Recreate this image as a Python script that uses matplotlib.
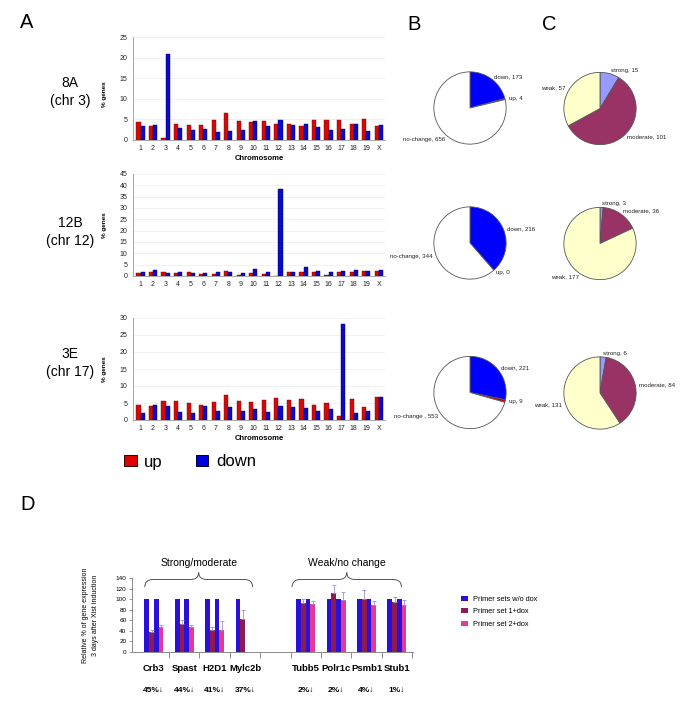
import numpy as np
import matplotlib
matplotlib.use('Agg')
import matplotlib.pyplot as plt
from matplotlib.path import Path
from matplotlib.patches import PathPatch, Patch
import matplotlib.transforms as mtransforms

plt.rcParams['font.family'] = ['Liberation Sans', 'DejaVu Sans']
NARROW = ['Liberation Sans Narrow', 'Liberation Sans', 'DejaVu Sans']

# ---------------- data ----------------
chromosomes = [str(i) for i in range(1, 20)] + ['X']

up_8A = [4.4, 3.5, 0.4, 3.8, 3.6, 3.6, 4.8, 6.6, 4.5, 4.4, 4.7, 3.8, 3.8, 3.4, 4.9, 4.9, 4.9, 3.8, 5.1, 3.4]
down_8A = [3.3, 3.6, 20.8, 2.9, 2.4, 2.6, 2.0, 2.1, 2.4, 4.7, 3.4, 4.9, 3.7, 3.9, 3.1, 2.4, 2.6, 4.0, 2.3, 3.7]

up_12B = [1.3, 1.7, 1.9, 1.4, 1.9, 0.8, 0.9, 2.4, 0.6, 1.5, 0.9, 0.0, 1.9, 1.7, 1.8, 0.3, 1.6, 1.8, 2.1, 2.2]
down_12B = [1.9, 2.6, 1.2, 1.7, 1.2, 1.4, 1.8, 1.9, 1.4, 3.0, 1.7, 38.6, 1.6, 4.1, 2.3, 1.8, 2.3, 2.5, 2.1, 2.6]

up_3E = [4.4, 4.0, 5.7, 5.7, 4.9, 4.3, 5.3, 7.4, 5.7, 5.3, 6.0, 6.4, 5.8, 6.2, 4.4, 4.9, 1.2, 6.1, 3.7, 6.8]
down_3E = [2.0, 4.4, 4.1, 2.3, 2.0, 4.2, 2.7, 3.9, 2.7, 3.1, 2.4, 4.1, 3.9, 3.6, 2.6, 3.1, 28.3, 2.1, 2.7, 6.8]

# panel B: down, up, no-change
b_values = [[173, 4, 656], [216, 0, 344], [221, 9, 553]]
b_labels = [["down, 173", "up, 4", "no-change, 656"],
            ["down, 216", "up, 0", "no-change, 344"],
            ["down, 221", "up, 9", "no-change , 553"]]
# panel C: strong, moderate, weak
c_values = [[15, 101, 57], [3, 36, 177], [6, 84, 131]]
c_labels = [["strong, 15", "moderate, 101", "weak, 57"],
            ["strong, 3", "moderate, 36", "weak, 177"],
            ["strong, 6", "moderate, 84", "weak, 131"]]

# panel D
genes = ['Crb3', 'Spast', 'H2D1', 'Mylc2b', '', 'Tubb5', 'Polr1c', 'Psmb1', 'Stub1']
nan = np.nan
set1_wo = [100, 100, 100, 100, nan, 100, 100, 100, 100]
set1_dox = [37, 53, 42, 62, nan, 92, 111, 100, 94]
set1_err = [4, 8, 5, 18, nan, 8, 15, 18, 10]
set2_wo = [100, 100, 100, nan, nan, 100, 100, 100, 100]
set2_dox = [47, 48, 42, nan, nan, 91, 99, 89, 89]
set2_err = [5, 3, 16, nan, nan, 5, 14, 8, 9]
pct_down = ['45%↓', '44%↓', '41%↓', '37%↓', '', '2%↓', '2%↓', '4%↓', '1%↓']
group_names = ['Strong/moderate', 'Weak/no change']
group_spans = [(-0.3, 3.25), (4.55, 8.15)]

# ---------------- styles ----------------
W, H = 685, 710
RED, RED_E = '#d40a0a', '#7a0000'
BLUE, BLUE_E = '#0a0ac8', '#000060'
B_COLORS = ['#0000ff', '#cc0000', '#ffffff']
C_COLORS = ['#9999ff', '#993366', '#ffffcc']
D_BLUE, D_MAROON, D_PINK = '#2a10d8', '#8c1c52', '#e6379a'

fig = plt.figure(figsize=(W / 100, H / 100), dpi=100)


def rect(l, t, r, b):
    return [l / W, 1 - b / H, (r - l) / W, (b - t) / H]


def chrom_chart(box, up, down, ymax, ylab_y, xlabel=True):
    ax = fig.add_axes(rect(*box))
    x = np.arange(len(chromosomes))
    w = 0.33
    ax.bar(x - w / 2, up, w, color=RED, edgecolor=RED_E, linewidth=0.3, zorder=2)
    ax.bar(x + w / 2, down, w, color=BLUE, edgecolor=BLUE_E, linewidth=0.3, zorder=2)
    ax.set_xlim(-0.6, 19.5)
    ax.set_ylim(0, ymax)
    ax.set_yticks(np.arange(0, ymax + 1, 5))
    ax.yaxis.grid(True, color='#ebebeb', lw=0.5)
    ax.set_axisbelow(True)
    for s in ['top', 'right']:
        ax.spines[s].set_visible(False)
    for s in ['left', 'bottom']:
        ax.spines[s].set_color('#9a9a9a')
        ax.spines[s].set_linewidth(0.6)
    ax.set_xticks(x, chromosomes)
    ax.tick_params(axis='both', length=0, labelsize=5, colors='#222222')
    ax.tick_params(axis='x', pad=3.5)
    ax.tick_params(axis='y', pad=4)
    ax.set_ylabel('% genes', fontsize=4.6, fontweight='bold')
    ax.yaxis.set_label_coords(-0.105, ylab_y)
    if xlabel:
        ax.set_xlabel('Chromosome', fontsize=5.5, fontweight='bold', labelpad=2.5)
    return ax


chrom_chart((133, 37, 385, 140), up_8A, down_8A, 25, 0.45)
chrom_chart((133, 174, 385, 276), up_12B, down_12B, 45, 0.5, xlabel=False)
chrom_chart((133, 318, 385, 420), up_3E, down_3E, 30, 0.5)

# legend for A
h_up = Patch(facecolor='#e00000', edgecolor='#300000', linewidth=0.7)
h_down = Patch(facecolor='#0000e0', edgecolor='#000030', linewidth=0.7)
fig.legend(handles=[h_up, h_down], labels=['up', 'down'], loc='center left',
           bbox_to_anchor=(124 / W, 1 - 462 / H), ncol=2, frameon=False, fontsize=12,
           handlelength=0.75, handleheight=0.6, handletextpad=0.45, columnspacing=2.0,
           borderpad=0, borderaxespad=0)

# side labels
for txt, yc in [('8A\n(chr 3)', 92), ('12B\n(chr 12)', 232), ('3E\n(chr 17)', 363)]:
    fig.text(70 / W, 1 - yc / H, txt, ha='center', va='center', fontsize=10, linespacing=1.45)

# panel letters
for L, xp, yp in [('A', 27, 23), ('B', 414, 25), ('C', 549, 25), ('D', 28, 505)]:
    fig.text(xp / W, 1 - yp / H, L, ha='center', va='center', fontsize=14.5)


# pies
def pie(cx, cy, r, values, labels, colors):
    ax = fig.add_axes([(cx - r) / W, 1 - (cy + r) / H, 2 * r / W, 2 * r / H])
    ax.pie(values, labels=labels, colors=colors, startangle=90, counterclock=False,
           labeldistance=1.1, radius=1,
           wedgeprops=dict(edgecolor='#555555', linewidth=0.6),
           textprops=dict(fontsize=4.4, color='#222222'))
    ax.set_xlim(-1.01, 1.01)
    ax.set_ylim(-1.01, 1.01)


R = 36.5
for i, cy in enumerate([108, 243, 392.5]):
    pie(470, cy, R, b_values[i], b_labels[i], B_COLORS)
    pie(600, cy + 0.5, R, c_values[i], c_labels[i], C_COLORS)

# panel D
axd = fig.add_axes(rect(132, 578, 413, 652))
xd = np.arange(len(genes))
bw = 0.155
offs = np.array([-1.5, -0.5, 0.5, 1.5]) * bw
ekw = dict(ecolor='#9c90c4', elinewidth=0.6, capsize=1.2, capthick=0.6)
zeros = np.zeros(len(genes))
axd.bar(xd + offs[0], set1_wo, bw, color=D_BLUE, zorder=2)
axd.bar(xd + offs[1], set1_dox, bw, color=D_MAROON, zorder=2,
        yerr=[zeros, set1_err], error_kw=ekw)
axd.bar(xd + offs[2], set2_wo, bw, color=D_BLUE, zorder=2)
axd.bar(xd + offs[3], set2_dox, bw, color=D_PINK, zorder=2,
        yerr=[zeros, set2_err], error_kw=ekw)
axd.set_xlim(-0.72, 8.53)
axd.set_ylim(0, 140)
axd.set_yticks(np.arange(0, 141, 20))
for s in ['top', 'right']:
    axd.spines[s].set_visible(False)
for s in ['left', 'bottom']:
    axd.spines[s].set_color('#8a8a8a')
    axd.spines[s].set_linewidth(0.7)
axd.set_xticks(xd, genes)
for t in axd.get_xticklabels():
    t.set_family(NARROW)
    t.set_fontweight('bold')
    t.set_fontsize(6.8)
axd.set_xticks(np.arange(0.5, 9, 1.0), minor=True)
axd.tick_params(axis='x', which='major', length=0, pad=8.5)
axd.tick_params(axis='x', which='minor', length=4, width=0.7, color='#8a8a8a')
axd.tick_params(axis='y', length=2, width=0.6, color='#8a8a8a', labelsize=4.6, pad=2)
axd.set_ylabel('Relative % of gene expression\n3 days after Xist induction',
               family=NARROW, fontsize=5.0, linespacing=1.6)
axd.yaxis.set_label_coords(-0.117, 0.5)

trans_pct = mtransforms.blended_transform_factory(axd.transData, fig.transFigure)
for xi, p in zip(xd, pct_down):
    if p:
        fig.text(xi, 1 - 690 / H, p, transform=trans_pct, ha='center', va='center',
                 family=NARROW, fontweight='bold', fontsize=6.0)

# braces
yb, ym, yt = 1 - 587 / H, 1 - 579.5 / H, 1 - 572.5 / H
for (x0, x1), name in zip(group_spans, group_names):
    xc = (x0 + x1) / 2
    dx = 0.27
    verts = [(x0, yb), (x0, ym), (x0 + dx, ym), (xc - dx, ym), (xc, ym), (xc, yt),
             (xc, ym), (xc + dx, ym), (x1 - dx, ym), (x1, ym), (x1, yb)]
    codes = [Path.MOVETO, Path.CURVE3, Path.CURVE3, Path.LINETO, Path.CURVE3, Path.CURVE3,
             Path.CURVE3, Path.CURVE3, Path.LINETO, Path.CURVE3, Path.CURVE3]
    fig.add_artist(PathPatch(Path(verts, codes), transform=trans_pct, fill=False,
                             edgecolor='#555555', linewidth=0.7, clip_on=False))
    fig.text(xc, 1 - 563 / H, name, transform=trans_pct, ha='center', va='center',
             family=NARROW, fontsize=7.5)

# legend for D
hd = [Patch(facecolor=D_BLUE), Patch(facecolor=D_MAROON), Patch(facecolor=D_PINK)]
fig.legend(handles=hd, labels=['Primer sets w/o dox', 'Primer set 1+dox', 'Primer set 2+dox'],
           loc='upper left', bbox_to_anchor=(461 / W, 1 - 596 / H), frameon=False,
           fontsize=5.3, handlelength=0.95, handleheight=0.7, handletextpad=0.7,
           labelspacing=0.7, borderpad=0, borderaxespad=0)

fig.savefig('out.png', dpi=100, facecolor='white')
